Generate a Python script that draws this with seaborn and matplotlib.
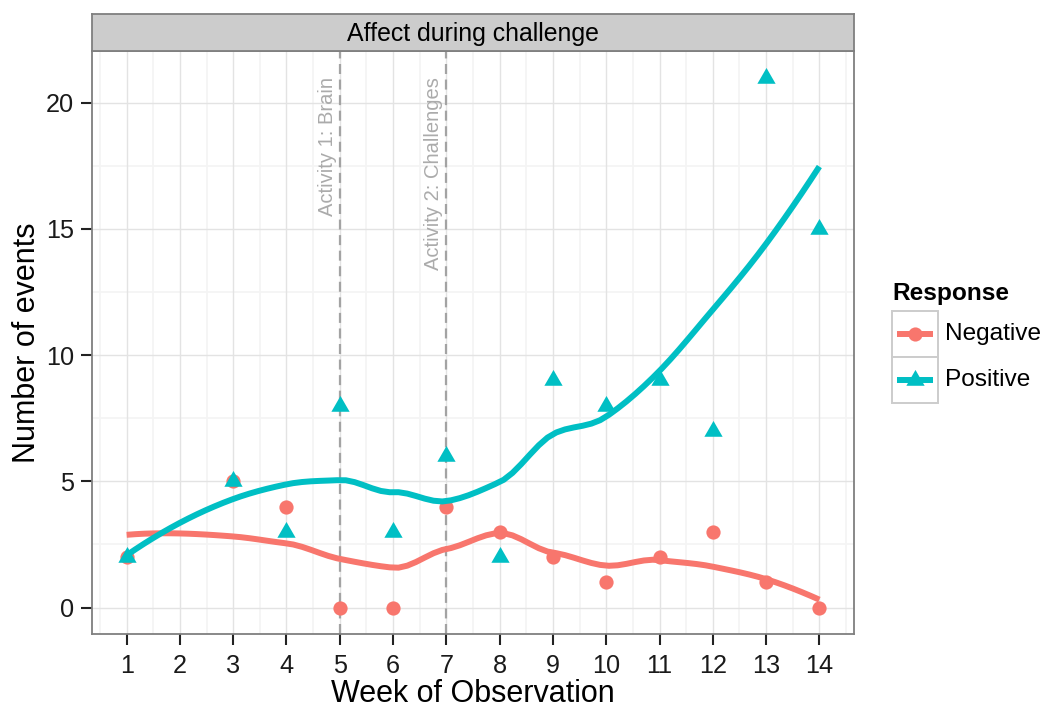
import numpy as np
import pandas as pd
import matplotlib
matplotlib.use("Agg")
import matplotlib.pyplot as plt
import matplotlib.transforms as mtransforms
from matplotlib.path import Path
from matplotlib.patches import Rectangle
from matplotlib.lines import Line2D
import seaborn as sns

# ---------------- data ----------------
weeks = [1, 3, 4, 5, 6, 7, 8, 9, 10, 11, 12, 13, 14]
negative = [2, 5, 4, 0, 0, 4, 3, 2, 1, 2, 3, 1, 0]
positive = [2, 5, 3, 8, 3, 6, 2, 9, 8, 9, 7, 21, 15]
responses = ["Negative", "Positive"]
activity_weeks = [5, 7]
activity_labels = ["Activity 1: Brain", "Activity 2: Challenges"]
x_ticks = list(range(1, 15))
y_ticks = [0, 5, 10, 15, 20]
facet_title = "Affect during challenge"

colors = {"Negative": "#F8766D", "Positive": "#00BFC4"}

sns.set_theme(style="white")
plt.rcParams["font.family"] = ["Liberation Sans", "DejaVu Sans"]

df = pd.DataFrame({
    "Week": weeks * 2,
    "Events": negative + positive,
    "Response": ["Negative"] * len(weeks) + ["Positive"] * len(weeks),
})


# ---------------- loess (R-style: local quadratic, tricube, kd-tree vertices + Hermite) ----------------
def local_fit(x, y, x0, q):
    n = len(x)
    d = np.abs(x - x0)
    h = np.sort(d)[q - 1]
    u = d / h
    w = np.where(u < 1, (1 - u ** 3) ** 3, 0.0)
    X = np.column_stack([np.ones(n), x - x0, (x - x0) ** 2])
    WX = X * w[:, None]
    b = np.linalg.solve(X.T @ WX, WX.T @ y)
    return b[0], b[1]


def kd_vertices(xs, fc, lo, hi):
    verts = []

    def split(pts, a, b):
        if len(pts) <= fc:
            return
        m = (len(pts) + 1) // 2
        v = pts[m - 1]
        if v == a or v == b:
            return
        verts.append(v)
        split(pts[:m], a, v)
        split(pts[m:], v, b)

    split(sorted(xs), lo, hi)
    return verts


def loess(x, y, xg, span=0.75, cell=0.2):
    x = np.asarray(x, float)
    y = np.asarray(y, float)
    n = len(x)
    q = int(np.floor(n * span))
    fc = max(1, int(np.floor(n * span * cell)))
    mu = 0.005 * (x.max() - x.min())
    lo, hi = x.min() - mu, x.max() + mu
    vs = np.array(sorted(set([lo, hi] + kd_vertices(list(x), fc, lo, hi))))
    vals = np.array([local_fit(x, y, v, q) for v in vs])
    f, s = vals[:, 0], vals[:, 1]
    out = []
    for xx in xg:
        i = np.searchsorted(vs, xx) - 1
        i = min(max(i, 0), len(vs) - 2)
        h = vs[i + 1] - vs[i]
        t = (xx - vs[i]) / h
        h00 = 2 * t ** 3 - 3 * t ** 2 + 1
        h10 = t ** 3 - 2 * t ** 2 + t
        h01 = -2 * t ** 3 + 3 * t ** 2
        h11 = t ** 3 - t ** 2
        out.append(h00 * f[i] + h10 * h * s[i] + h01 * f[i + 1] + h11 * h * s[i + 1])
    return np.array(out)


grid = np.linspace(min(weeks), max(weeks), 80)
smooth_parts = []
for r, vals in zip(responses, [negative, positive]):
    smooth_parts.append(pd.DataFrame({"Week": grid, "Fit": loess(weeks, vals, grid), "Response": r}))
smooth = pd.concat(smooth_parts, ignore_index=True)

# ---------------- figure ----------------
W, H = 1043, 707
fig = plt.figure(figsize=(W / 100, H / 100), dpi=100)


def fx(px):
    return px / W


def fy(py):
    return 1 - py / H


pl, pr, pt, pb = 92, 854, 51, 634
ax = fig.add_axes([fx(pl), fy(pb), fx(pr - pl), (pb - pt) / H])
ax.set_facecolor("white")

ax.set_xlim(0.35, 14.65)
ax.set_ylim(-1.05, 22.05)

# grid
for xm in np.arange(0.5, 15, 1.0):
    ax.axvline(xm, color="#F4F4F4", lw=1.3, zorder=0)
for ym in [2.5, 7.5, 12.5, 17.5]:
    ax.axhline(ym, color="#F4F4F4", lw=1.3, zorder=0)
for xv in x_ticks:
    ax.axvline(xv, color="#E3E3E3", lw=1.0, zorder=0.5)
for yv in y_ticks:
    ax.axhline(yv, color="#E3E3E3", lw=1.0, zorder=0.5)

# activity lines and labels
txt_off = mtransforms.offset_copy(ax.transData, fig=fig, x=-3, y=0, units="dots")
for wk, lab in zip(activity_weeks, activity_labels):
    ax.axvline(wk, color="#A3A3A3", lw=1.6, dashes=(4.5, 2.5), zorder=1)
    ax.text(wk, 21, lab, rotation=90, ha="right", va="top", color="#ABABAB",
            fontsize=14.5, transform=txt_off, zorder=1)

# points
tri = Path([(0, 0.577), (-0.5, -0.289), (0.5, -0.289), (0, 0.577)],
           [Path.MOVETO, Path.LINETO, Path.LINETO, Path.CLOSEPOLY])
sns.scatterplot(data=df[df.Response == "Negative"], x="Week", y="Events",
                color=colors["Negative"], marker="o", s=105, linewidth=0,
                legend=False, ax=ax, zorder=2)
sns.scatterplot(data=df[df.Response == "Positive"], x="Week", y="Events",
                color=colors["Positive"], marker=tri, s=230, linewidth=0,
                legend=False, ax=ax, zorder=3)

# smooth lines
sns.lineplot(data=smooth, x="Week", y="Fit", hue="Response", palette=colors,
             lw=4.3, legend=False, ax=ax, zorder=4, solid_capstyle="butt")

ax.set_xticks(x_ticks)
ax.set_xticklabels([str(t) for t in x_ticks])
ax.set_yticks(y_ticks)
ax.set_yticklabels([str(t) for t in y_ticks])
ax.tick_params(axis="both", which="major", length=8, width=1.5, color="#222222",
               labelsize=18.2, labelcolor="#1A1A1A", direction="out")
ax.tick_params(axis="x", pad=6.5)
ax.tick_params(axis="y", pad=5)
ax.tick_params(bottom=True, left=True)
ax.set_xlabel("Week of Observation", fontsize=22, color="black", labelpad=0.5)
ax.set_ylabel("Number of events", fontsize=22, color="black", labelpad=3)
for s in ax.spines.values():
    s.set_color("#7F7F7F")
    s.set_linewidth(1.3)
    s.set_visible(True)
ax.grid(False)

# strip
sax = fig.add_axes([fx(pl), fy(pt), fx(pr - pl), (pt - 13.5) / H])
sax.set_facecolor("#CCCCCC")
sax.set_xticks([])
sax.set_yticks([])
for s in sax.spines.values():
    s.set_color("#7F7F7F")
    s.set_linewidth(1.3)
sax.text(0.5, 0.45, facet_title, ha="center", va="center", fontsize=17.9,
         color="black", transform=sax.transAxes)

# legend
fig.text(fx(892), fy(294), "Response", fontsize=17.6, fontweight="bold",
         ha="left", va="center", color="black")
key_top = 311
key_size = 46
for i, r in enumerate(responses):
    top = key_top + i * key_size
    cy = top + key_size / 2
    fig.patches.append(Rectangle((fx(892), fy(top + key_size)), fx(key_size), key_size / H,
                                 transform=fig.transFigure, facecolor="white",
                                 edgecolor="#CCCCCC", lw=1.4, zorder=1))
    fig.lines.append(Line2D([fx(897), fx(933)], [fy(cy), fy(cy)], transform=fig.transFigure,
                            color=colors[r], lw=4.3, solid_capstyle="butt", zorder=2))
    if r == "Negative":
        fig.lines.append(Line2D([fx(915)], [fy(cy)], transform=fig.transFigure, marker="o",
                                markersize=10.2, color=colors[r], markeredgewidth=0, zorder=3))
    else:
        fig.lines.append(Line2D([fx(915)], [fy(cy)], transform=fig.transFigure, marker=tri,
                                markersize=15.2, color=colors[r], markeredgewidth=0, zorder=3))
    fig.text(fx(945), fy(cy), r, fontsize=17.6, ha="left", va="center", color="black")

fig.savefig("out.png", dpi=100, facecolor="white")
